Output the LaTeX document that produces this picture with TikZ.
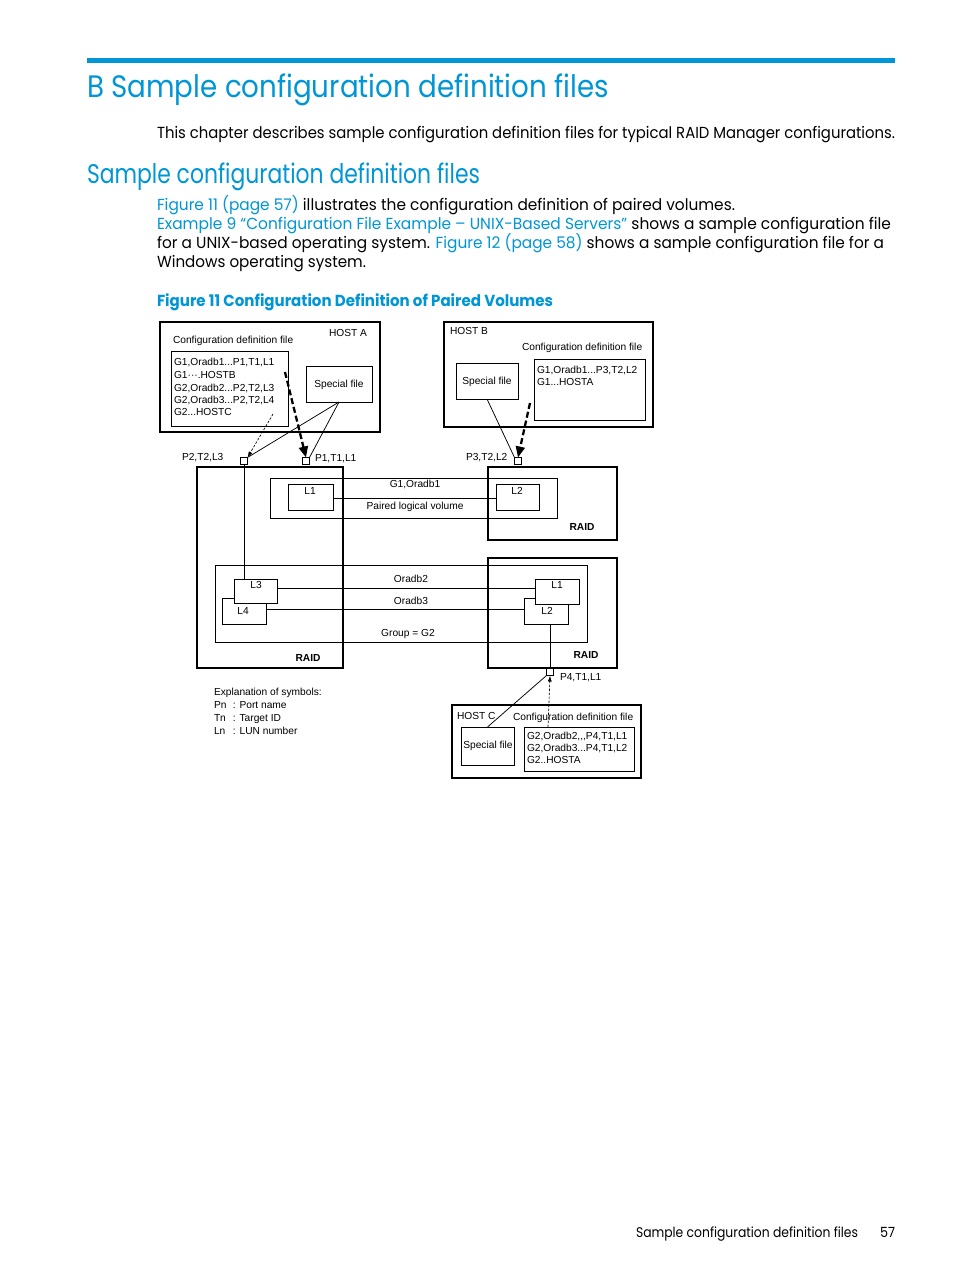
\documentclass[tikz,border=0pt]{standalone}
\usepackage{fontspec}
\usepackage{graphicx}
\setmainfont{Poppins}
\newfontfamily\diagfont{Liberation Sans}
\usetikzlibrary{arrows.meta}
\definecolor{hpblue}{HTML}{0096D6}
\newcommand\fitw[2]{\resizebox{#1}{\height}{#2}}
\newcommand\bx[6]{\node[#6, anchor=north west, inner sep=0pt, outer sep=0pt, minimum width={#4pt-#2pt}, minimum height={#5pt-#3pt}] (#1) at (#2,#3) {};}
\begin{document}
\begin{tikzpicture}[x=1pt,y=-1pt,
  txt/.style={anchor=base west, inner sep=0pt, outer sep=0pt},
  dg/.style={font=\diagfont\fontsize{10.2}{12}\selectfont, inner sep=0pt, outer sep=0pt, text height=7.4pt, text depth=2.2pt, yshift=-1pt},
  dgb/.style={font=\diagfont\bfseries\fontsize{10.2}{12}\selectfont, inner sep=0pt, outer sep=0pt, text height=7.4pt, text depth=2.2pt, yshift=-1pt},
  thk/.style={draw, line width=2.7pt},
  thn/.style={draw, line width=0.85pt},
  wbox/.style={draw, line width=0.85pt, fill=white},
  port/.style={draw, line width=0.85pt, fill=white, minimum size=7pt, inner sep=0pt, outer sep=0pt},
  conn/.style={line width=0.75pt},
  dashthick/.style={line width=2.3pt, dash pattern=on 6pt off 3pt, -{Triangle[length=11pt,width=9pt]}},
  dashthin/.style={line width=0.65pt, dash pattern=on 2.5pt off 1.5pt, -{Latex[length=6pt,width=4pt]}}
]
\useasboundingbox (0,0) rectangle (954,1271);
\fill[white] (0,0) rectangle (954,1271);

% ---------- page header and text ----------
\fill[hpblue] (87,58.5) rectangle (895,63);
\node[txt, text=hpblue, font=\fontsize{31}{31}\selectfont] (title) at (87,97.5) {\fitw{522pt}{B Sample configuration definition files}};
\node[txt, font=\fontsize{16}{16}\selectfont] (intro) at (157,139) {\fitw{738pt}{This chapter describes sample configuration definition files for typical RAID Manager configurations.}};
\node[txt, text=hpblue, font=\fontsize{27}{27}\selectfont] (sub) at (87,183) {\fitw{393pt}{Sample configuration definition files}};
\node[txt, font=\fontsize{16}{16}\selectfont] (p1) at (157,210) {\fitw{578pt}{\textcolor{hpblue}{Figure 11 (page 57)} illustrates the configuration definition of paired volumes.}};
\node[txt, font=\fontsize{16}{16}\selectfont] (p2) at (157,229) {\fitw{734pt}{\textcolor{hpblue}{Example 9 “Configuration File Example – UNIX-Based Servers”} shows a sample configuration file}};
\node[txt, font=\fontsize{16}{16}\selectfont] (p3) at (157,248) {\fitw{727pt}{for a UNIX-based operating system. \textcolor{hpblue}{Figure 12 (page 58)} shows a sample configuration file for a}};
\node[txt, font=\fontsize{16}{16}\selectfont] (p4) at (157,267) {\fitw{209pt}{Windows operating system.}};
\node[txt, text=hpblue, font=\bfseries\fontsize{16}{16}\selectfont] (cap) at (157,306) {\fitw{396pt}{Figure 11 Configuration Definition of Paired Volumes}};
\node[txt, font=\fontsize{14}{14}\selectfont] (foot) at (636,1237) {\fitw{222pt}{Sample configuration definition files}};
\node[txt, font=\fontsize{14}{14}\selectfont] (pg) at (880,1237) {\fitw{15pt}{57}};

% ---------- HOST A ----------
\bx{hostA}{160}{322}{380}{432}{thk}
\node[dg] (hostAt) at (348,333) {HOST A};
\node[dg, anchor=west] (cfgAt) at (173,340) {Configuration definition file};
\bx{cfgA}{171}{351}{288}{426}{thn}
\node[dg, anchor=west] (a1) at (174,362) {G1,Oradb1...P1,T1,L1};
\node[dg, anchor=west] (a2) at (174,375) {G1···.HOSTB};
\node[dg, anchor=west] (a3) at (174,388) {G2,Oradb2...P2,T2,L3};
\node[dg, anchor=west] (a4) at (174,400) {G2,Oradb3...P2,T2,L4};
\node[dg, anchor=west] (a5) at (174,412) {G2...HOSTC};
\bx{spA}{306}{366}{372}{402}{thn}
\node[dg] (spAt) at (339,384) {Special file};

% ---------- HOST B ----------
\bx{hostB}{444}{322}{653}{427}{thk}
\node[dg, anchor=west] (hostBt) at (450,331) {HOST B};
\node[dg, anchor=west] (cfgBt) at (522,347) {Configuration definition file};
\bx{spB}{456}{363}{518}{399}{thn}
\node[dg] (spBt) at (487,381) {Special file};
\bx{cfgB}{534}{359}{645}{420}{thn}
\node[dg, anchor=west] (b1) at (537,370) {G1,Oradb1...P3,T2,L2};
\node[dg, anchor=west] (b2) at (537,382) {G1...HOSTA};

% ---------- RAID boxes ----------
\bx{raidL}{197}{467}{343}{668}{thk}
\node[dgb] (raidLt) at (308,658) {RAID};
\bx{raidTR}{488}{467}{617}{540}{thk}
\node[dgb] (raidTRt) at (582,527) {RAID};
\bx{raidBR}{488}{558}{617}{668}{thk}
\node[dgb] (raidBRt) at (586,655) {RAID};

% paired logical volume
\bx{pair}{270}{478}{557}{518}{thn}
\bx{L1a}{288}{484}{333}{510}{wbox}
\node[dg] (L1at) at (310,491) {L1};
\bx{L2a}{496}{484}{539}{510}{wbox}
\node[dg] (L2at) at (517,491) {L2};
\draw[conn] ([yshift=-1pt]L1a.east) -- ([yshift=-1pt]L2a.west);
\node[dg] (g1t) at (415,484) {G1,Oradb1};
\node[dg] (plvt) at (415,506) {Paired logical volume};

% group G2
\bx{grp}{215}{565}{587}{642}{thn}
\bx{L4}{222}{598}{266}{624}{wbox}
\node[dg] (L4t) at (243,611) {L4};
\bx{L3}{234}{579}{277}{603}{wbox}
\node[dg] (L3t) at (256,585) {L3};
\bx{L2r}{524}{598}{568}{624}{wbox}
\node[dg] (L2rt) at (547,611) {L2};
\bx{L1r}{535}{579}{579}{604}{wbox}
\node[dg] (L1rt) at (557,585) {L1};
\draw[conn] ([yshift=3pt]L3.east) -- ([yshift=3pt]L3.east -| L1r.west);
\draw[conn] ([yshift=2pt]L4.east) -- ([yshift=2pt]L4.east -| L2r.west);
\node[dg] (o2t) at (411,579) {Oradb2};
\node[dg] (o3t) at (411,601) {Oradb3};
\node[dg] (g2t) at (408,633) {Group = G2};

% ---------- ports ----------
\node[port] (pA2) at (244,461) {};
\node[port] (pA1) at (306,461) {};
\node[port] (pB) at (518,461) {};
\node[port] (pC) at (550,672) {};
\node[dg, anchor=west] (pA2t) at (182,457) {P2,T2,L3};
\node[dg, anchor=west] (pA1t) at (315,458) {P1,T1,L1};
\node[dg, anchor=west] (pBt) at (466,457) {P3,T2,L2};
\node[dg, anchor=west] (pCt) at (560,677) {P4,T1,L1};

\draw[conn] (pA2.south) -- (pA2.south |- L3.north);
\draw[conn] (pC.north) -- (pC.north |- L2r.south);

% ---------- HOST C ----------
\bx{hostC}{452}{705}{641}{778}{thk}
\node[dg, anchor=west] (hostCt) at (457,716) {HOST C};
\node[dg, anchor=west] (cfgCt) at (513,717) {Configuration definition file};
\bx{spC}{461}{727}{514}{765}{thn}
\node[dg] (spCt) at (488,745) {Special file};
\bx{cfgC}{524}{727}{634}{771}{thn}
\node[dg, anchor=west] (c1) at (527,736) {G2,Oradb2,,,P4,T1,L1};
\node[dg, anchor=west] (c2) at (527,748) {G2,Oradb3...P4,T1,L2};
\node[dg, anchor=west] (c3) at (527,760) {G2..HOSTA};

% ---------- connectors ----------
\coordinate (dA1) at (285,372);
\coordinate (dA2) at (273,414);
\coordinate (dB) at (530,403);
\coordinate (dC) at (548,727);
\draw[conn] (spA.south) -- (pA2.north east);
\draw[conn] (spA.south) -- (pA1.north east);
\draw[dashthin] (dA2) -- (pA2.north east);
\draw[dashthick] (dA1) -- (pA1.north);
\draw[conn] (spB.south) -- (pB.north west);
\draw[dashthick] (dB) -- (pB.north);
\draw[conn] (spC.north) -- (pC.south west);
\draw[dashthin] (dC) -- (pC.south);

% ---------- legend ----------
\node[dg, anchor=west] (lg0) at (214,692) {Explanation of symbols:};
\node[dg, anchor=west] (lg1) at (214,705) {\makebox[19pt][l]{Pn}: Port name};
\node[dg, anchor=west] (lg2) at (214,718) {\makebox[19pt][l]{Tn}: Target ID};
\node[dg, anchor=west] (lg3) at (214,731) {\makebox[19pt][l]{Ln}: LUN number};
\end{tikzpicture}
\end{document}
